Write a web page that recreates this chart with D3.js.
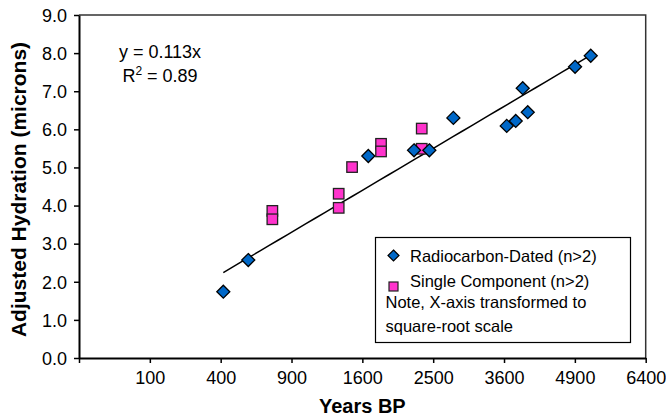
<!DOCTYPE html>
<html><head><meta charset="utf-8">
<script src="https://cdn.jsdelivr.net/npm/d3@7"></script>
<style>
body{margin:0;background:#fff;}
svg{display:block;font-family:"Liberation Sans",Arial,sans-serif;}
</style></head>
<body><svg id="c" width="666" height="417"></svg>
<script>
const radioYears = [415, 571, 1668, 2237, 2446, 2793, 3646, 3801, 3924, 4013, 4904, 5219];
const radioHydration = [1.74, 2.57, 5.30, 5.45, 5.45, 6.30, 6.09, 6.22, 7.08, 6.45, 7.64, 7.93];
const singleYears = [745, 745, 1344, 1344, 1486, 1818, 1818, 2341, 2341];
const singleHydration = [3.86, 3.64, 4.31, 3.94, 5.01, 5.62, 5.42, 6.02, 5.49];
const xTicks = [0, 100, 400, 900, 1600, 2500, 3600, 4900, 6400];
const yTicks = [0, 1, 2, 3, 4, 5, 6, 7, 8, 9];
// trend line as drawn in the picture (value = slope * sqrt(years))
const trendSlopeDrawn = 0.110;
const equationLabel = "y = 0.113x";
const r2Label = "0.89";
const legendItems = ["Radiocarbon-Dated (n>2)", "Single Component (n>2)"];
const noteLines = ["Note, X-axis transformed to", "square-root scale"];

const svg = d3.select("#c");
const L = 79, R = 645.7, T = 15, B = 358;
const x = d3.scaleSqrt().domain([0, 6400]).range([L, R]);
const y = d3.scaleLinear().domain([0, 9]).range([B, T]);

// frame top/right
svg.append("path").attr("d", `M${L},${T}H${R}V${B}`).attr("fill","none").attr("stroke","#333").attr("stroke-width",1.5);

const xa = svg.append("g").attr("transform",`translate(0,${B})`)
  .call(d3.axisBottom(x).tickValues(xTicks).tickSize(5).tickSizeOuter(0).tickFormat(d => d === 0 ? "" : d));
xa.select(".domain").attr("stroke","#000").attr("stroke-width",2);
xa.selectAll(".tick line").attr("stroke","#000").attr("stroke-width",1.5);
xa.selectAll(".tick text").attr("font-size",18).attr("fill","#000").attr("dy",null).attr("y",26)
  .attr("font-family","Liberation Sans, Arial, sans-serif");

const ya = svg.append("g").attr("transform",`translate(${L},0)`)
  .call(d3.axisLeft(y).tickValues(yTicks).tickSize(5).tickSizeOuter(0).tickFormat(d3.format(".1f")));
ya.select(".domain").attr("stroke","#000").attr("stroke-width",2);
ya.selectAll(".tick line").attr("stroke","#000").attr("stroke-width",1.5);
ya.selectAll(".tick text").attr("font-size",18).attr("fill","#000").attr("x",-12).attr("dy","0.35em")
  .attr("font-family","Liberation Sans, Arial, sans-serif");

// trend line
const allYears = radioYears.concat(singleYears);
const xmin = d3.min(allYears), xmax = d3.max(allYears);
const tl = d3.range(0, 41).map(i => { const s = Math.sqrt(xmin) + (Math.sqrt(xmax)-Math.sqrt(xmin))*i/40; return [s*s, trendSlopeDrawn*s]; });
svg.append("path").datum(tl).attr("fill","none").attr("stroke","#000").attr("stroke-width",1.5)
  .attr("d", d3.line().x(d => x(d[0])).y(d => y(d[1])));

const sq = 10.5;
svg.append("g").selectAll("rect").data(singleYears.map((v,i)=>[v,singleHydration[i]])).join("rect")
  .attr("x", d => x(d[0]) - sq/2).attr("y", d => y(d[1]) - sq/2).attr("width", sq).attr("height", sq)
  .attr("fill","#ff33cc").attr("stroke","#222").attr("stroke-width",1.3);

const dm = 6.5;
const diamond = (cx, cy, r) => `M${cx},${cy-r}L${cx+r},${cy}L${cx},${cy+r}L${cx-r},${cy}Z`;
svg.append("g").selectAll("path").data(radioYears.map((v,i)=>[v,radioHydration[i]])).join("path")
  .attr("d", d => diamond(x(d[0]), y(d[1]), dm))
  .attr("fill","#0068c8").attr("stroke","#000").attr("stroke-width",1.3);

// equation
svg.append("text").attr("x",160).attr("y",58).attr("text-anchor","middle").attr("font-size",18).text(equationLabel);
const r2 = svg.append("text").attr("x",160).attr("y",82).attr("text-anchor","middle").attr("font-size",18);
r2.append("tspan").text("R");
r2.append("tspan").attr("font-size",12).attr("dy",-7).text("2");
r2.append("tspan").attr("dy",7).text(" = " + r2Label);

// axis titles
svg.append("text").attr("x",(L+R)/2).attr("y",413).attr("text-anchor","middle").attr("font-size",20).attr("font-weight","bold").text("Years BP");
svg.append("text").attr("transform",`translate(26,${(T+B)/2+3}) rotate(-90)`).attr("text-anchor","middle")
  .attr("font-size",21).attr("font-weight","bold").text("Adjusted Hydration (microns)");

// legend
const lg = svg.append("g");
lg.append("rect").attr("x",375.5).attr("y",237.5).attr("width",255).attr("height",105).attr("fill","#fff").attr("stroke","#000").attr("stroke-width",1.2);
lg.append("path").attr("d", diamond(393.5, 255.5, 5.5)).attr("fill","#0068c8").attr("stroke","#000").attr("stroke-width",1.2);
lg.append("rect").attr("x",389).attr("y",282).attr("width",9).attr("height",9).attr("fill","#ff33cc").attr("stroke","#222").attr("stroke-width",1.2);
legendItems.forEach((t,i) => lg.append("text").attr("x",410).attr("y",261.5 + i*25.5).attr("font-size",16.5).text(t));
noteLines.forEach((t,i) => lg.append("text").attr("x",385.5).attr("y",307.5 + i*24.5).attr("font-size",16.5).text(t));
</script></body></html>
